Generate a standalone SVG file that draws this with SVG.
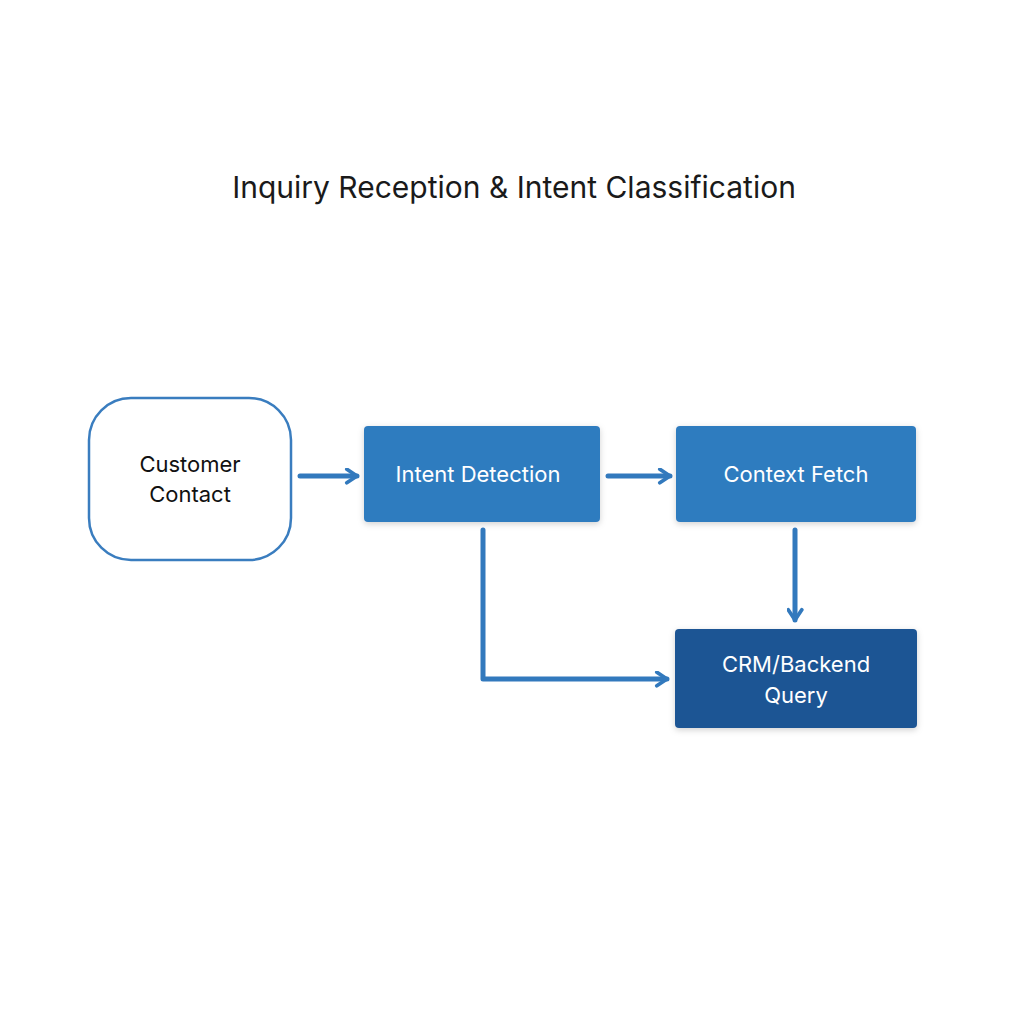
<svg xmlns="http://www.w3.org/2000/svg" width="1024" height="1024" viewBox="0 0 1024 1024">
<style>
.t{font-family:Inter,"Liberation Sans",sans-serif;font-size:22px;text-anchor:middle;dominant-baseline:central}
.w{fill:#fff}
.c{fill:none;stroke:#3279bd;stroke-width:5;stroke-linecap:round;stroke-linejoin:round}
</style>
<defs>
<marker id="a" viewBox="0 0 10 10" refX="8" refY="5" markerWidth="3.4" markerHeight="3.4" orient="auto" markerUnits="strokeWidth">
<path d="M2,1 L8,5 L2,9" fill="none" stroke="#3279bd" stroke-width="2.2" stroke-linecap="round" stroke-linejoin="round"/>
</marker>
<filter id="s" x="-10%" y="-10%" width="120%" height="130%"><feDropShadow dx="0" dy="2" stdDeviation="3" flood-color="#000" flood-opacity="0.18"/></filter>
</defs>
<rect width="1024" height="1024" fill="#fff"/>
<text x="514" y="187" class="t" style="font-size:30px;fill:#1a1a1a">Inquiry Reception &amp; Intent Classification</text>
<g id="customer">
<rect x="89" y="398" width="202" height="162" rx="42" fill="#fff" stroke="#3a7dbf" stroke-width="2.5"/>
<text x="190" y="464" class="t" fill="#111">Customer</text>
<text x="190" y="494" class="t" fill="#111">Contact</text>
</g>
<g id="intent">
<rect x="364" y="426" width="236" height="96" rx="4" fill="#2f7bbf" filter="url(#s)"/>
<text x="478" y="474" class="t w">Intent Detection</text>
</g>
<g id="context">
<rect x="676" y="426" width="240" height="96" rx="4" fill="#2f7bbf" filter="url(#s)"/>
<text x="796" y="474" class="t w">Context Fetch</text>
</g>
<g id="crm">
<rect x="675" y="629" width="242" height="99" rx="4" fill="#1f5594" filter="url(#s)"/>
<text x="796" y="664" class="t w">CRM/Backend</text>
<text x="796" y="695" class="t w">Query</text>
</g>
<g id="connectors">
<path class="c" d="M300,476 H357" marker-end="url(#a)"/>
<path class="c" d="M608,476 H670" marker-end="url(#a)"/>
<path class="c" d="M795,530 V620" marker-end="url(#a)"/>
<path class="c" d="M483,530 V679 H667" marker-end="url(#a)"/>
</g>
</svg>
